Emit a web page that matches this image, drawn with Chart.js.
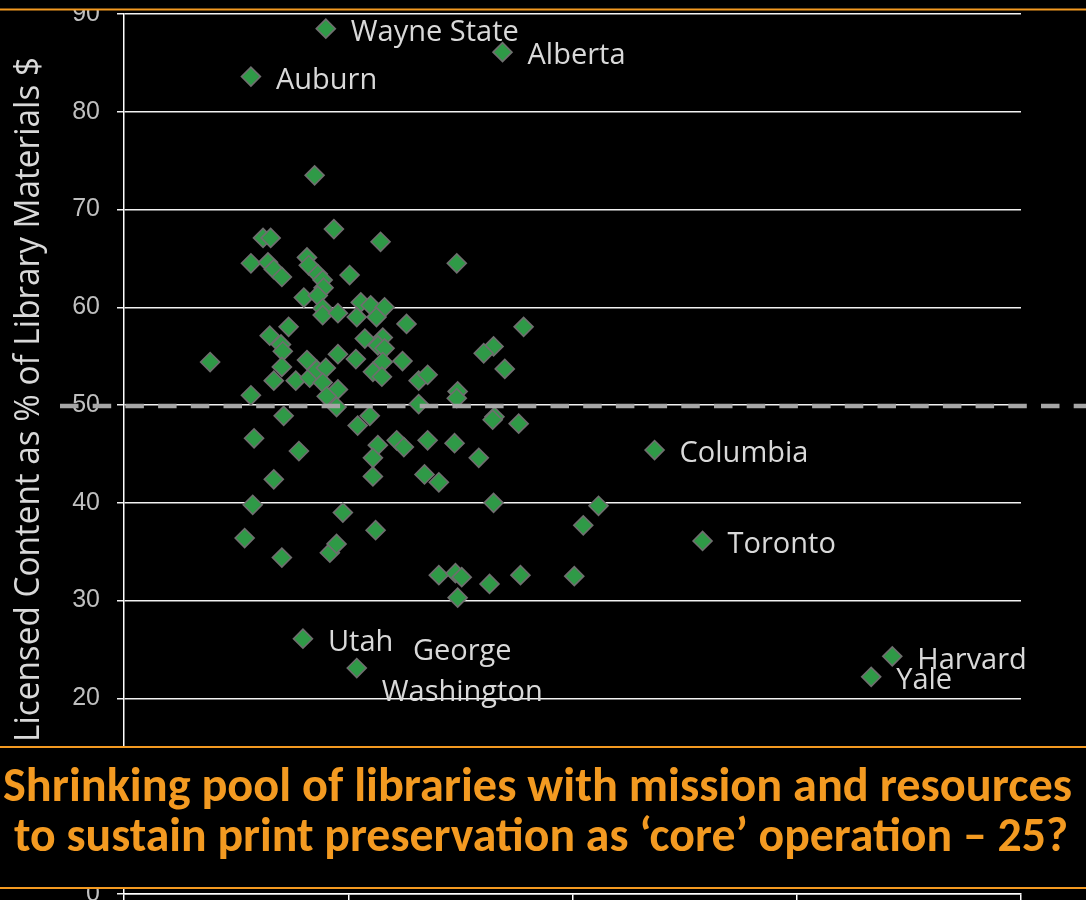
<!DOCTYPE html>
<html><head><meta charset="utf-8">
<script src="https://cdn.jsdelivr.net/npm/chart.js@4.4.1/dist/chart.umd.min.js"></script>
<style>html,body{margin:0;padding:0;background:#000;overflow:hidden;height:900px}</style>
</head><body>
<canvas id="c" width="1086" height="905"></canvas>
<script>
// ---- data ----
const libraryNames = ['Wayne State','Alberta','Auburn','Columbia','Toronto','Utah','George\nWashington','Harvard','Yale',
 '','','','','','','','','','','','','','','','','','','','','','','','','','','','','','','','','','','','','','','','','','',
 '','','','','','','','','','','','','','','','','','','','','','','','','','','','','','','','','','','','','','','','','','',
 '','','','','','','','','','','','','','','','',''];
const xValues = [4.50,8.44,2.83,11.83,12.90,3.99,5.19,17.13,16.66,
 4.25,4.68,3.10,3.27,5.72,2.83,3.21,3.34,3.52,4.08,4.12,4.32,4.43,5.03,4.45,4.01,4.32,4.43,4.43,4.77,
 5.28,5.50,5.81,5.19,5.63,6.30,3.67,3.25,3.50,3.54,1.92,3.52,3.34,3.83,4.08,4.14,4.30,4.50,4.43,4.77,
 4.52,4.74,4.77,5.17,5.37,5.77,5.66,5.81,5.55,5.77,5.75,6.21,6.57,6.77,7.44,7.42,6.57,2.83,3.56,2.90,
 3.90,3.34,5.21,5.48,5.66,5.55,5.55,6.08,6.24,6.77,7.37,7.91,6.70,7.02,8.24,10.58,10.24,2.87,2.69,3.52,
 4.88,4.59,4.74,5.61,7.02,7.39,7.53,8.15,8.84,10.04,7.44,7.42,8.91,8.24,8.02,8.49,8.26,8.22,8.80];
const yValues = [88.5,86.1,83.6,45.4,36.1,26.1,23.1,24.3,22.2,
 73.5,68.0,67.1,67.1,66.7,64.5,64.6,63.9,63.1,65.1,64.3,63.4,62.8,63.3,62.0,61.0,61.2,59.9,59.2,59.4,
 60.5,60.2,60.0,59.0,59.0,58.3,58.0,57.1,56.2,55.5,54.4,53.9,52.5,52.5,54.6,52.8,53.6,53.8,52.3,51.6,
 50.9,49.8,55.2,54.7,56.8,56.9,56.1,55.8,53.4,54.4,52.9,54.5,52.5,53.1,51.4,50.7,50.1,51.0,48.9,46.6,
 45.3,42.4,47.9,48.9,45.9,44.6,42.7,46.4,45.7,46.4,46.1,44.6,42.9,42.1,40.0,39.7,37.7,39.8,36.4,34.4,
 39.0,34.9,35.8,37.2,32.6,32.8,32.4,31.7,32.6,32.5,30.3,64.5,58.0,56.0,55.3,53.7,48.8,48.5,48.1];
const yAxisTitle = 'Licensed Content as % of Library Materials $';
const referenceValue = 50;
const bandLines = ['Shrinking pool of libraries with mission and resources',
                   'to sustain print preservation as \u2018core\u2019 operation \u2013 25?'];

const points = xValues.map((x, i) => ({x: x, y: yValues[i]}));

const decorPlugin = {
  id: 'decor',
  beforeDraw(chart) {
    const ctx = chart.ctx;
    ctx.save(); ctx.fillStyle = '#000'; ctx.fillRect(0, 0, chart.width, chart.height); ctx.restore();
  },
  afterDatasetsDraw(chart) {
    const ctx = chart.ctx;
    const y = chart.scales.y.getPixelForValue(referenceValue);
    ctx.save();
    ctx.strokeStyle = '#a6a6a6'; ctx.lineWidth = 4.5;
    ctx.setLineDash([18.5, 14.2]);
    ctx.beginPath(); ctx.moveTo(60, y + 1); ctx.lineTo(chart.width, y + 1); ctx.stroke();
    ctx.restore();
  },
  afterDraw(chart) {
    const ctx = chart.ctx;
    const meta = chart.getDatasetMeta(0);
    // point labels
    ctx.save();
    ctx.fillStyle = '#d9d9d9';
    ctx.font = '29px "Open Sans"';
    ctx.textBaseline = 'middle';
    libraryNames.forEach((name, i) => {
      if (!name) return;
      const el = meta.data[i];
      const lines = name.split('\n');
      if (lines.length === 1) {
        ctx.textAlign = 'left';
        ctx.fillText(name, el.x + 25, el.y + 4);
      } else {
        const w = Math.max(...lines.map(l => ctx.measureText(l).width));
        ctx.textAlign = 'center';
        const cx = el.x + 25 + w / 2;
        const lh = 41;
        const y0 = el.y + 4 - lh * (lines.length - 1) / 2;
        lines.forEach((l, k) => ctx.fillText(l, cx, y0 + k * lh));
      }
    });
    ctx.restore();
    // y axis title
    ctx.save();
    ctx.fillStyle = '#d9d9d9';
    ctx.font = '35px "Open Sans"';
    ctx.translate(39, 742);
    ctx.rotate(-Math.PI / 2);
    const tw = ctx.measureText(yAxisTitle).width;
    ctx.scale(685 / tw, 1);
    ctx.textAlign = 'left'; ctx.textBaseline = 'alphabetic';
    ctx.fillText(yAxisTitle, 0, 0);
    ctx.restore();
    // top cover and line
    ctx.save();
    ctx.fillStyle = '#000'; ctx.fillRect(0, 0, chart.width, 9);
    ctx.fillStyle = '#F39A21'; ctx.fillRect(0, 8.5, chart.width, 2);
    // band
    ctx.fillStyle = '#000'; ctx.fillRect(0, 747, chart.width, 141);
    ctx.fillStyle = '#F39A21';
    ctx.fillRect(0, 746, chart.width, 2);
    ctx.fillRect(0, 887, chart.width, 2);
    ctx.font = 'bold 48px Carlito, Calibri, "Liberation Sans", sans-serif';
    ctx.textBaseline = 'alphabetic';
    ctx.textAlign = 'left';
    const specs = [{l: 3, r: 1072, b: 801}, {l: 14, r: 1068, b: 851}];
    bandLines.forEach((t, k) => {
      const s = specs[k];
      const w = ctx.measureText(t).width;
      ctx.save();
      ctx.translate(s.l, s.b);
      ctx.scale((s.r - s.l) / w, 1);
      ctx.fillText(t, 0, 0);
      ctx.restore();
    });
    ctx.restore();
  }
};

new Chart(document.getElementById('c'), {
  type: 'scatter',
  data: {
    datasets: [{
      data: points,
      pointStyle: 'rectRot',
      pointRadius: 9.5,
      pointHoverRadius: 9.5,
      backgroundColor: '#2f9a47',
      borderColor: '#6f6f6f',
      borderWidth: 1.6
    }]
  },
  options: {
    responsive: false,
    animation: false,
    devicePixelRatio: 1,
    layout: {padding: {top: 14, right: 65, bottom: 0, left: 0}},
    plugins: {legend: {display: false}, tooltip: {enabled: false}},
    scales: {
      x: {
        type: 'linear', min: 0, max: 20,
        ticks: {display: false, stepSize: 5},
        grid: {drawOnChartArea: false, drawTicks: true, tickLength: 7, color: '#ffffff', lineWidth: 1.5},
        border: {display: true, color: '#ffffff', width: 1.5},
        afterFit(s) { s.height = 6.5; s.paddingLeft = 0; s.paddingRight = 0; }
      },
      y: {
        min: 0, max: 90,
        ticks: {stepSize: 10, color: '#bfbfbf', padding: 17, font: {family: '"Liberation Sans"', size: 25, lineHeight: 0.4}},
        grid: {color: '#f2f2f2', lineWidth: 1.5, tickLength: 7, drawTicks: true},
        border: {display: true, color: '#ffffff', width: 1.5},
        afterFit(s) { s.width = 124; s.paddingTop = 0; s.paddingBottom = 0; }
      }
    }
  },
  plugins: [decorPlugin]
});
</script>
</body></html>
